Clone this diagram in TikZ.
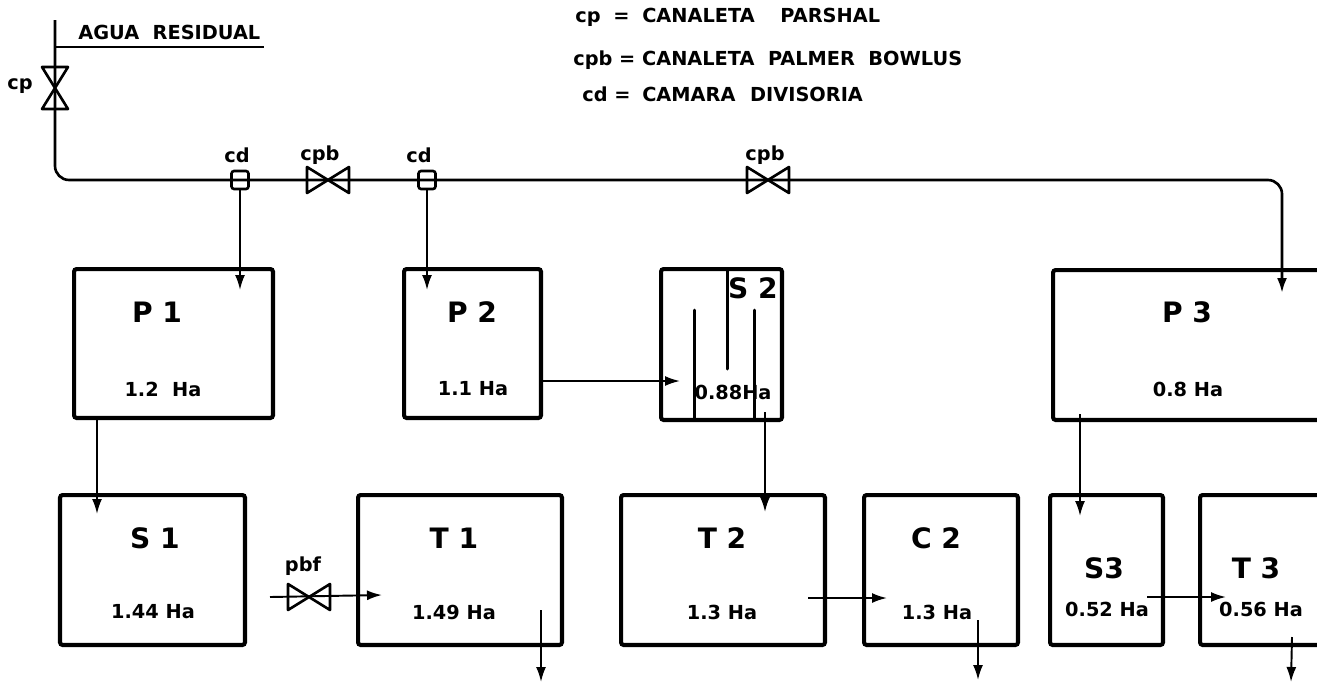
\documentclass[tikz,border=0pt]{standalone}
\usepackage{fontspec}
\setmainfont{DejaVu Sans}
\usetikzlibrary{arrows.meta}
\tikzset{
	tank/.style 2 args = {draw, line width = 2.3pt, rounded corners = 1.5pt, minimum width = #1, minimum height = #2, inner sep = 0pt},
	tankname/.style = {font = \bfseries\fontsize{16}{17}\selectfont, inner sep = 0pt},
	tankarea/.style = {font = \bfseries\fontsize{11}{12}\selectfont, inner sep = 0pt},
	tag/.style = {font = \bfseries\fontsize{11}{12}\selectfont, inner sep = 0pt},
	legend/.style = {font = \bfseries\fontsize{11}{12}\selectfont, inner sep = 0pt, anchor = west},
	divider/.style = {draw, line width = 1.5pt, rounded corners = 1.5pt, minimum width = 0.34cm, minimum height = 0.36cm, inner sep = 0pt},
	pipe/.style = {line width = 1.5pt, rounded corners = 8pt},
	flow/.style = {line width = 1.1pt, -{Latex[length = 0.3cm, width = 0.2cm]}},
	baffle/.style = {line width = 1.7pt, line cap = round}
}
\newcommand{\canaleta}{\draw[line width = 1.5pt, line join = round] (-21,-13) -- (21,13) -- (21,-13) -- (-21,13) -- cycle;}
\begin{document}
\begin{tikzpicture}[x = 0.02cm, y = -0.02cm]

	\path[use as bounding box, clip] (0,0) rectangle (1317,683);

	\node[tank = {3.98cm}{2.98cm}] (P1) at (173.5,343.5) {};
	\node[tank = {2.74cm}{2.98cm}] (P2) at (472.5,343.5) {};
	\node[tank = {2.42cm}{3.02cm}] (S2) at (721.5,344.5) {};
	\node[tank = {5.8cm}{3.0cm}] (P3) at (1198,345) {};
	\node[tank = {3.7cm}{3.0cm}] (S1) at (152.5,570) {};
	\node[tank = {4.08cm}{3.0cm}] (T1) at (460,570) {};
	\node[tank = {4.08cm}{3.0cm}] (T2) at (723,570) {};
	\node[tank = {3.08cm}{3.0cm}] (C2) at (941,570) {};
	\node[tank = {2.26cm}{3.0cm}] (S3) at (1106.5,570) {};
	\node[tank = {3.2cm}{3.0cm}] (T3) at (1280,570) {};

	\node[tankname] (nP1) at (157,312) {P 1};
	\node[tankarea] (aP1) at (163,389) {1.2\ \ Ha};
	\node[tankname] (nP2) at (472,312) {P 2};
	\node[tankarea] (aP2) at (473,389) {1.1 Ha};
	\node[tankname] (nS2) at (753,288) {S 2};
	\node[tankarea] (aS2) at (733,392) {0.88Ha};
	\node[tankname] (nP3) at (1187,312) {P 3};
	\node[tankarea] (aP3) at (1188,389) {0.8 Ha};
	\node[tankname] (nS1) at (155,538) {S 1};
	\node[tankarea] (aS1) at (153,612) {1.44 Ha};
	\node[tankname] (nT1) at (454,538) {T 1};
	\node[tankarea] (aT1) at (454,612) {1.49 Ha};
	\node[tankname] (nT2) at (722,538) {T 2};
	\node[tankarea] (aT2) at (722,612) {1.3 Ha};
	\node[tankname] (nC2) at (936,538) {C 2};
	\node[tankarea] (aC2) at (937,612) {1.3 Ha};
	\node[tankname] (nS3) at (1104,568) {S3};
	\node[tankarea] (aS3) at (1107,609) {0.52 Ha};
	\node[tankname] (nT3) at (1256,568) {T 3};
	\node[tankarea] (aT3) at (1261,609) {0.56 Ha};

	\node[legend] (agua) at (78,32) {AGUA\ \ RESIDUAL};
	\node[legend] (lcp) at (575,17) {cp\hspace{0.12cm} =\hspace{0.12cm} CANALETA\hspace{0.38cm} PARSHAL};
	\node[legend] (lcpb) at (573,60) {cpb = CANALETA\ \ PALMER\ \ BOWLUS};
	\node[legend] (lcd) at (582,94) {cd =\hspace{0.1cm} CAMARA\hspace{0.16cm} DIVISORIA};

	\node[tag] (tcp) at (20,86) {cp};
	\node[tag] (tcd1) at (237,155) {cd};
	\node[tag] (tcpb1) at (320,155) {cpb};
	\node[tag] (tcd2) at (419,155) {cd};
	\node[tag] (tcpb2) at (765,155) {cpb};
	\node[tag] (tpbf) at (303,566) {pbf};

	\node[divider] (cd1) at (240,180) {};
	\node[divider] (cd2) at (427,180) {};

	\coordinate (inlet) at (55,20);
	\coordinate (corner1) at (55,180);
	\coordinate (corner2) at (1282,180);
	\coordinate (inP1) at (240,290);
	\coordinate (inP2) at (427,290);
	\coordinate (inP3) at (1282,293);
	\coordinate (outP1) at (97,416);
	\coordinate (inS1) at (97,514);
	\coordinate (outP2) at (541,381);
	\coordinate (inS2) at (680,381);
	\coordinate (outS2) at (765,412);
	\coordinate (inT2) at (765,512);
	\coordinate (outP3) at (1080,414);
	\coordinate (inS3) at (1080,516);
	\coordinate (outS1) at (270,597);
	\coordinate (inT1) at (382,595);
	\coordinate (outT2) at (808,598);
	\coordinate (inC2) at (887,598);
	\coordinate (outS3) at (1147,597);
	\coordinate (inT3) at (1226,597);
	\coordinate (outT1) at (541,610);
	\coordinate (endT1) at (541,682);
	\coordinate (outC2) at (978,620);
	\coordinate (endC2) at (978,680);
	\coordinate (outT3) at (1292,637);
	\coordinate (endT3) at (1291,682);
	\coordinate (underA) at (55,47);
	\coordinate (underB) at (264,47);

	\draw[flow, pipe] (inlet) -- (corner1) -- (corner2) -- (inP3);
	\draw[line width = 1.5pt] (underA) -- (underB);

	\draw[flow] (cd1) -- (inP1);
	\draw[flow] (cd2) -- (inP2);
	\draw[flow] (outP1) -- (inS1);
	\draw[flow] (outP2) -- (inS2);
	\draw[flow] (outS2) -- (inT2);
	\draw[flow] (outP3) -- (inS3);
	\draw[flow] (outS1) -- (inT1);
	\draw[flow] (outT2) -- (inC2);
	\draw[flow] (outS3) -- (inT3);
	\draw[flow] (outT1) -- (endT1);
	\draw[flow] (outC2) -- (endC2);
	\draw[flow] (outT3) -- (endT3);

	\draw[baffle] (694,310) -- (694,420);
	\draw[baffle] (727,270) -- (727,369);
	\draw[baffle] (754,310) -- (754,420);

	\begin{scope}[shift = {(55,88)}, rotate = 90]
		\canaleta
	\end{scope}

	\begin{scope}[shift = {(328,180)}, rotate = 0]
		\canaleta
	\end{scope}

	\begin{scope}[shift = {(768,180)}, rotate = 0]
		\canaleta
	\end{scope}

	\begin{scope}[shift = {(309,597)}, rotate = 0]
		\canaleta
	\end{scope}

\end{tikzpicture}
\end{document}
